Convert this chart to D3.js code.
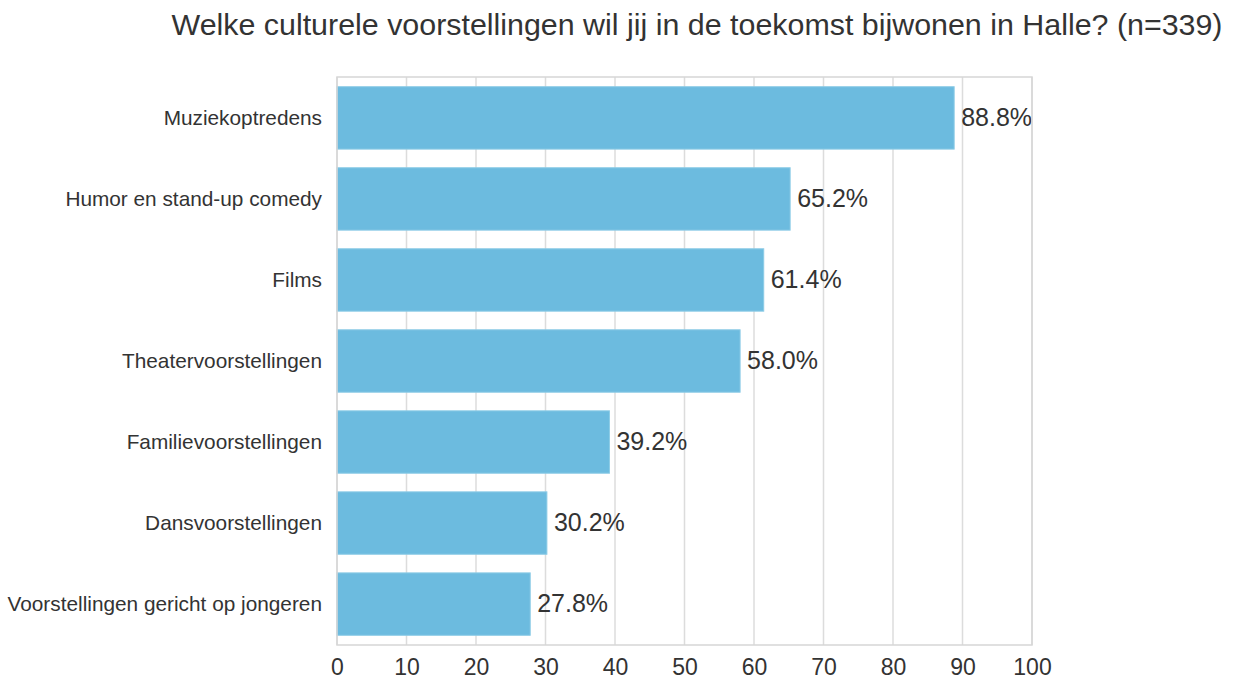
<!DOCTYPE html>
<html>
<head>
<meta charset="utf-8">
<style>
    body { margin: 0; background: #fff; }
    svg { font-family: "Liberation Sans", Arial, sans-serif; }
    .grid line { stroke: #dcdcdc; stroke-width: 1.5; }
    .frame { fill: none; stroke: #d6d6d6; stroke-width: 1.5; }
    .bar { fill: #6cbbdf; stroke: #8ccbe6; stroke-width: 1; }
</style>
</head>
<body>
<svg id="chart"></svg>
<script src="https://d3js.org/d3.v7.min.js"></script>
<script>
    // chart data
    var categories = [
        'Muziekoptredens',
        'Humor en stand-up comedy',
        'Films',
        'Theatervoorstellingen',
        'Familievoorstellingen',
        'Dansvoorstellingen',
        'Voorstellingen gericht op jongeren'
    ];
    var percentages = [88.8, 65.2, 61.4, 58.0, 39.2, 30.2, 27.8];
    var xTicks = [0, 10, 20, 30, 40, 50, 60, 70, 80, 90, 100];
    var title = 'Welke culturele voorstellingen wil jij in de toekomst bijwonen in Halle? (n=339)';

    var width = 1237, height = 679;
    var margin = { top: 77, right: 205, bottom: 34, left: 337 };

    var svg = d3.select('#chart')
        .attr('width', width)
        .attr('height', height);

    var x = d3.scaleLinear()
        .domain([0, 100])
        .range([margin.left, width - margin.right]);

    var y = d3.scaleBand()
        .domain(categories)
        .range([margin.top, height - margin.bottom])
        .paddingInner(0.23)
        .paddingOuter(0.12);

    // vertical grid lines
    svg.append('g')
        .attr('class', 'grid')
        .selectAll('line')
        .data(xTicks)
        .join('line')
        .attr('x1', function (d) { return x(d); })
        .attr('x2', function (d) { return x(d); })
        .attr('y1', margin.top)
        .attr('y2', height - margin.bottom);

    // bars
    svg.append('g')
        .selectAll('rect')
        .data(percentages)
        .join('rect')
        .attr('class', 'bar')
        .attr('x', x(0))
        .attr('y', function (d, i) { return y(categories[i]); })
        .attr('width', function (d) { return x(d) - x(0); })
        .attr('height', y.bandwidth());

    // value labels
    svg.append('g')
        .selectAll('text')
        .data(percentages)
        .join('text')
        .attr('x', function (d) { return x(d) + 7; })
        .attr('y', function (d, i) { return y(categories[i]) + y.bandwidth() / 2 - 1; })
        .attr('dy', '0.35em')
        .attr('font-size', 25)
        .attr('fill', '#333')
        .text(function (d) { return d.toFixed(1) + '%'; });

    // frame
    svg.append('rect')
        .attr('class', 'frame')
        .attr('x', margin.left)
        .attr('y', margin.top)
        .attr('width', width - margin.right - margin.left)
        .attr('height', height - margin.bottom - margin.top);

    // x axis labels
    var xAxis = svg.append('g')
        .attr('transform', 'translate(0,' + (height - margin.bottom) + ')')
        .call(d3.axisBottom(x).tickValues(xTicks).tickSize(0).tickPadding(14));
    xAxis.select('.domain').remove();
    xAxis.selectAll('text')
        .attr('font-size', 23)
        .attr('font-family', '"Liberation Sans", Arial, sans-serif')
        .attr('fill', '#333');

    // y axis labels
    var yAxis = svg.append('g')
        .attr('transform', 'translate(' + margin.left + ',0)')
        .call(d3.axisLeft(y).tickSize(0).tickPadding(15));
    yAxis.select('.domain').remove();
    yAxis.selectAll('text')
        .attr('font-size', 20.8)
        .attr('font-family', '"Liberation Sans", Arial, sans-serif')
        .attr('fill', '#333');

    // title
    svg.append('text')
        .attr('x', 697)
        .attr('y', 35)
        .attr('text-anchor', 'middle')
        .attr('font-size', 30.4)
        .attr('fill', '#333')
        .text(title);
</script>
</body>
</html>
